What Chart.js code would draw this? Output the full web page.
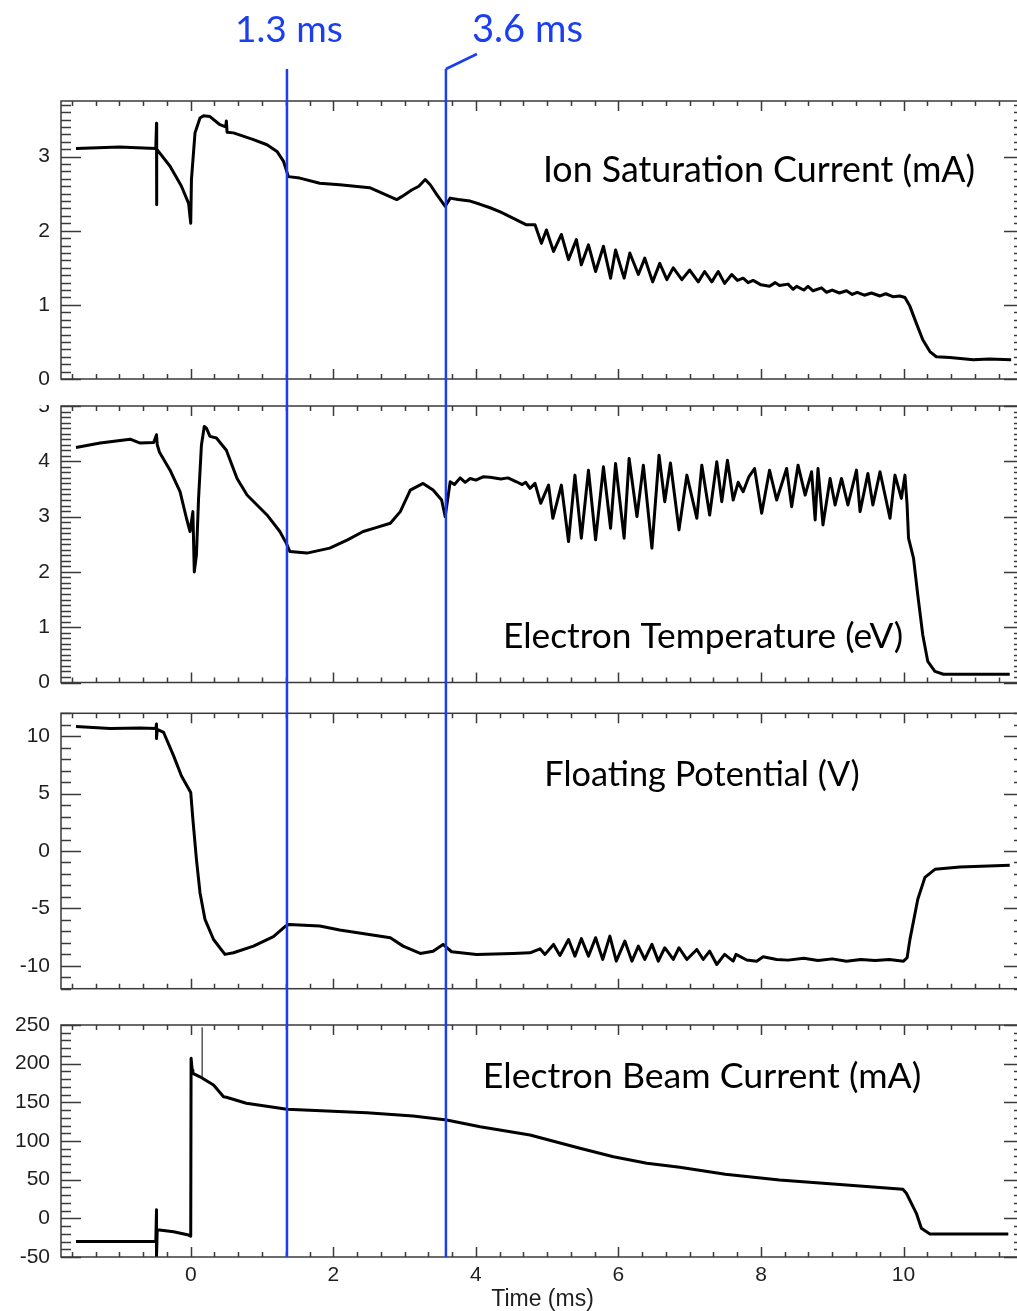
<!DOCTYPE html>
<html>
<head>
<meta charset="utf-8">
<script src="https://cdn.jsdelivr.net/npm/chart.js@4.4.1/dist/chart.umd.min.js"></script>
<style>
  html, body { margin: 0; padding: 0; background: #fff; overflow: hidden; }
  #page { position: relative; width: 1017px; height: 1311px; overflow: hidden; }
  canvas { position: absolute; left: 0; }
</style>
</head>
<body>
<div id="page">
  <canvas id="p1" width="1030" height="405" style="top:0px"></canvas>
  <canvas id="p2" width="1030" height="295" style="top:405px"></canvas>
  <canvas id="p3" width="1030" height="312" style="top:700px"></canvas>
  <canvas id="p4" width="1030" height="299" style="top:1012px"></canvas>
</div>
<script>
// ---------------- data ----------------
const xTicks = [0, 2, 4, 6, 8, 10];
const markerTimes = [1.35, 3.58];
const markerLabels = ["1.3 ms", "3.6 ms"];

const ionTicks = [0, 1, 2, 3];
const tempTicks = [0, 1, 2, 3, 4, 5];
const vfTicks = [-10, -5, 0, 5, 10];
const beamTicks = [-50, 0, 50, 100, 150, 200, 250];

// [time (ms), value]
const ionSat = [
  [-1.61, 3.11], [-1.3, 3.12], [-1.0, 3.13], [-0.75, 3.12], [-0.49, 3.11],
  [-0.48, 3.45], [-0.48, 2.35], [-0.475, 3.1], [-0.29, 2.87], [-0.13, 2.6],
  [-0.03, 2.37], [0.0, 2.1], [0.01, 2.69], [0.06, 3.32], [0.13, 3.52],
  [0.18, 3.55], [0.27, 3.54], [0.41, 3.43], [0.49, 3.4], [0.5, 3.48],
  [0.51, 3.33], [0.6, 3.32], [0.88, 3.23], [1.07, 3.16], [1.21, 3.07],
  [1.3, 2.94], [1.37, 2.73], [1.53, 2.71], [1.81, 2.64], [2.09, 2.62],
  [2.51, 2.58], [2.89, 2.42], [2.96, 2.46], [3.1, 2.55], [3.2, 2.6],
  [3.29, 2.69], [3.36, 2.62], [3.45, 2.49], [3.57, 2.33], [3.64, 2.44],
  [3.75, 2.42], [3.92, 2.4], [4.05, 2.36], [4.2, 2.31], [4.35, 2.25],
  [4.52, 2.17], [4.71, 2.08], [4.83, 2.08], [4.92, 1.83], [4.99, 2.01],
  [5.09, 1.72], [5.2, 1.95], [5.3, 1.61], [5.41, 1.88], [5.48, 1.54],
  [5.58, 1.81], [5.68, 1.45], [5.79, 1.79], [5.89, 1.36], [5.96, 1.74],
  [6.08, 1.36], [6.16, 1.7], [6.28, 1.41], [6.37, 1.63], [6.48, 1.31],
  [6.58, 1.56], [6.68, 1.34], [6.77, 1.5], [6.89, 1.34], [7.0, 1.47],
  [7.12, 1.31], [7.21, 1.45], [7.31, 1.31], [7.4, 1.45], [7.49, 1.29],
  [7.59, 1.41], [7.67, 1.33], [7.75, 1.36], [7.82, 1.3], [7.89, 1.33],
  [8.0, 1.27], [8.12, 1.25], [8.2, 1.3], [8.26, 1.26], [8.38, 1.28],
  [8.45, 1.21], [8.5, 1.25], [8.6, 1.2], [8.66, 1.25], [8.73, 1.19],
  [8.85, 1.23], [8.92, 1.17], [9.0, 1.2], [9.1, 1.16], [9.2, 1.19],
  [9.28, 1.14], [9.35, 1.17], [9.45, 1.13], [9.55, 1.16], [9.67, 1.12],
  [9.75, 1.15], [9.85, 1.11], [9.95, 1.12], [10.02, 1.1], [10.09, 0.98],
  [10.18, 0.75], [10.27, 0.53], [10.37, 0.37], [10.46, 0.3], [10.65, 0.29],
  [10.98, 0.26], [11.2, 0.27], [11.51, 0.26]
];

const electronTemp = [
  [-1.61, 4.25], [-1.27, 4.33], [-0.85, 4.4], [-0.71, 4.33], [-0.52, 4.34],
  [-0.48, 4.48], [-0.47, 4.3], [-0.44, 4.17], [-0.29, 3.84], [-0.15, 3.45],
  [-0.06, 2.97], [-0.01, 2.73], [0.03, 3.09], [0.05, 2.0], [0.08, 2.31],
  [0.11, 3.33], [0.15, 4.29], [0.19, 4.63], [0.22, 4.6], [0.27, 4.45],
  [0.36, 4.42], [0.5, 4.2], [0.65, 3.69], [0.79, 3.39], [1.07, 3.03],
  [1.25, 2.73], [1.34, 2.52], [1.39, 2.37], [1.63, 2.34], [1.95, 2.43],
  [2.2, 2.58], [2.42, 2.73], [2.6, 2.8], [2.8, 2.88], [2.94, 3.09],
  [3.08, 3.48], [3.26, 3.6], [3.4, 3.48], [3.52, 3.3], [3.57, 3.0],
  [3.64, 3.63], [3.7, 3.58], [3.78, 3.7], [3.85, 3.62], [3.92, 3.69],
  [4.0, 3.66], [4.1, 3.72], [4.2, 3.71], [4.35, 3.68], [4.45, 3.7],
  [4.57, 3.63], [4.65, 3.58], [4.7, 3.62], [4.76, 3.51], [4.83, 3.6],
  [4.91, 3.24], [5.02, 3.57], [5.08, 2.97], [5.2, 3.57], [5.3, 2.55],
  [5.39, 3.75], [5.48, 2.61], [5.58, 3.84], [5.68, 2.58], [5.79, 3.9],
  [5.89, 2.79], [5.96, 3.96], [6.08, 2.61], [6.15, 4.05], [6.26, 3.0],
  [6.35, 3.93], [6.47, 2.43], [6.57, 4.11], [6.65, 3.27], [6.73, 3.97],
  [6.85, 2.76], [6.96, 3.75], [7.1, 2.97], [7.17, 3.93], [7.28, 3.03],
  [7.38, 3.99], [7.45, 3.27], [7.53, 4.02], [7.61, 3.3], [7.68, 3.62],
  [7.75, 3.45], [7.83, 3.72], [7.91, 3.87], [8.01, 3.06], [8.12, 3.84],
  [8.22, 3.3], [8.36, 3.87], [8.43, 3.18], [8.52, 3.93], [8.62, 3.39],
  [8.71, 3.81], [8.76, 2.94], [8.8, 3.87], [8.87, 2.85], [8.97, 3.69],
  [9.04, 3.21], [9.13, 3.69], [9.22, 3.21], [9.34, 3.84], [9.39, 3.09],
  [9.5, 3.78], [9.57, 3.21], [9.67, 3.81], [9.81, 2.97], [9.88, 3.75],
  [9.97, 3.33], [10.02, 3.75], [10.05, 3.21], [10.07, 2.61], [10.14, 2.25],
  [10.2, 1.58], [10.27, 0.86], [10.34, 0.38], [10.44, 0.2], [10.56, 0.15],
  [11.49, 0.15]
];

const floatingPot = [
  [-1.61, 10.85], [-1.13, 10.68], [-0.71, 10.71], [-0.49, 10.68], [-0.48, 11.06],
  [-0.48, 9.81], [-0.47, 10.6], [-0.38, 10.33], [-0.24, 8.29], [-0.13, 6.54],
  [0.0, 5.1], [0.03, 2.77], [0.08, -0.72], [0.13, -3.63], [0.2, -5.96],
  [0.32, -7.71], [0.48, -9.01], [0.6, -8.87], [0.88, -8.29], [1.16, -7.47],
  [1.33, -6.54], [1.38, -6.4], [1.81, -6.54], [2.09, -6.89], [2.8, -7.56],
  [2.98, -8.29], [3.22, -8.93], [3.4, -8.73], [3.54, -8.14], [3.66, -8.78],
  [4.01, -9.01], [4.52, -8.93], [4.76, -8.87], [4.9, -8.52], [4.97, -9.01],
  [5.09, -8.14], [5.18, -9.1], [5.3, -7.71], [5.39, -9.16], [5.48, -7.64],
  [5.58, -9.16], [5.68, -7.56], [5.78, -9.45], [5.88, -7.42], [5.97, -9.6],
  [6.09, -7.85], [6.19, -9.6], [6.28, -8.29], [6.37, -9.45], [6.47, -8.14],
  [6.56, -9.6], [6.65, -8.43], [6.77, -9.45], [6.85, -8.43], [6.96, -9.45],
  [7.1, -8.58], [7.19, -9.45], [7.28, -8.73], [7.38, -9.89], [7.49, -9.01],
  [7.61, -9.6], [7.65, -9.01], [7.8, -9.5], [7.94, -9.6], [8.03, -9.22],
  [8.22, -9.45], [8.38, -9.51], [8.6, -9.35], [8.8, -9.55], [9.0, -9.4],
  [9.2, -9.6], [9.4, -9.45], [9.6, -9.55], [9.8, -9.45], [10.0, -9.6],
  [10.05, -9.3], [10.09, -7.7], [10.2, -4.2], [10.3, -2.3], [10.44, -1.6],
  [10.79, -1.4], [11.49, -1.24]
];

const beamCurrent = [
  [-1.61, -30], [-1.0, -30], [-0.49, -30], [-0.48, 11], [-0.48, -50],
  [-0.47, -15], [-0.44, -15], [-0.24, -17.3], [-0.03, -21.6], [0.0, -23],
  [0.005, 207], [0.02, 191.8], [0.03, 187.5], [0.13, 183], [0.32, 172.4],
  [0.46, 157.3], [0.5, 156.5], [0.78, 148.8], [1.35, 141], [2.47, 136.6],
  [3.12, 132.3], [3.59, 127.2], [4.06, 118.5], [4.76, 107.8], [5.46, 90.6],
  [5.93, 79.7], [6.4, 71.2], [6.86, 66], [7.5, 57], [8.26, 49.6],
  [9.2, 43.1], [9.99, 37.5], [10.04, 32.4], [10.18, 6.5], [10.25, -12.9],
  [10.37, -20.3], [11.47, -20.3]
];
const beamSpike = [[0.16, 183], [0.16, 247]];

// ---------------- drawing ----------------
const X_MIN = -1.82;
const X_MAX = 11.69;
const BLUE = "#1a3ef0";
const AXIS = "#3a3a3a";
const TICK_FONT = { family: "'Liberation Sans', Arial, sans-serif", size: 21 };

function toPoints(rows) {
  return rows.map(function (r) { return { x: r[0], y: r[1] }; });
}

function fitFont(ctx, text, width, family) {
  ctx.font = "100px " + family;
  return (100 * width) / ctx.measureText(text).width;
}

const framePlugin = {
  id: "frame",
  afterDatasetsDraw(chart, args, o) {
    const ctx = chart.ctx;
    const a = chart.chartArea;
    const xs = chart.scales.x;
    const ys = chart.scales.y;
    ctx.save();
    ctx.strokeStyle = AXIS;
    ctx.lineWidth = 1.5;
    ctx.beginPath();
    // x ticks every 1/3 ms, long ones on the labelled values
    for (let k = Math.ceil(xs.min * 3); k <= xs.max * 3; k++) {
      const px = Math.round(xs.getPixelForValue(k / 3)) + 0.5;
      const len = k % 6 === 0 ? 10 : 5;
      ctx.moveTo(px, a.bottom);
      ctx.lineTo(px, a.bottom - len);
      ctx.moveTo(px, a.top);
      ctx.lineTo(px, a.top + len);
    }
    const n0 = Math.ceil(ys.min / o.yMinor - 1e-6);
    const n1 = Math.floor(ys.max / o.yMinor + 1e-6);
    for (let k = n0; k <= n1; k++) {
      const v = k * o.yMinor;
      const major = o.yMajor.some(function (m) { return Math.abs(m - v) < 1e-6; });
      const py = Math.round(ys.getPixelForValue(v)) + 0.5;
      const len = major ? 20 : 10;
      ctx.moveTo(a.left, py);
      ctx.lineTo(a.left + len, py);
      ctx.moveTo(a.right, py);
      ctx.lineTo(a.right - len, py);
    }
    ctx.stroke();
    ctx.strokeRect(a.left, a.top, a.right - a.left, a.bottom - a.top);

    // panel caption
    const fam = "Lato, 'Open Sans', sans-serif";
    const size = fitFont(ctx, o.label, o.labelWidth, fam);
    ctx.font = size.toFixed(1) + "px " + fam;
    ctx.fillStyle = "#000";
    ctx.textAlign = "center";
    ctx.textBaseline = "alphabetic";
    ctx.fillText(o.label, o.labelX, o.labelY);

    // blue time markers
    ctx.strokeStyle = BLUE;
    ctx.lineWidth = 2.5;
    const bottom = o.markerToChart ? a.bottom : chart.height;
    markerTimes.forEach(function (t, i) {
      const px = xs.getPixelForValue(t);
      ctx.beginPath();
      ctx.moveTo(px, o.markerTop);
      ctx.lineTo(px, bottom);
      ctx.stroke();
      if (o.markerText) {
        const w = i === 0 ? 108 : 111;
        const s = fitFont(ctx, markerLabels[i], w, fam);
        ctx.font = s.toFixed(1) + "px " + fam;
        ctx.fillStyle = BLUE;
        if (i === 0) {
          ctx.textAlign = "center";
          ctx.fillText(markerLabels[i], px + 2, 42);
        } else {
          ctx.beginPath();
          ctx.moveTo(px, o.markerTop);
          ctx.lineTo(px + 31, 54);
          ctx.stroke();
          ctx.textAlign = "left";
          ctx.fillText(markerLabels[i], px + 26, 42);
        }
      }
    });
    ctx.restore();
  },
};

function makePanel(id, cfg) {
  const datasets = cfg.series.map(function (s) {
    return {
      data: toPoints(s.rows),
      borderColor: "#000",
      borderWidth: s.width || 3,
      pointRadius: 0,
      tension: 0,
      borderJoinStyle: "round",
      fill: false,
    };
  });
  new Chart(document.getElementById(id), {
    type: "line",
    data: { datasets: datasets },
    options: {
      responsive: false,
      animation: false,
      layout: { padding: { top: cfg.padTop, bottom: cfg.padBottom, left: 0, right: 6 } },
      plugins: {
        legend: { display: false },
        tooltip: { enabled: false },
        frame: cfg.frame,
      },
      scales: {
        x: {
          type: "linear",
          min: X_MIN,
          max: X_MAX,
          display: cfg.showX,
          grid: { display: false, drawTicks: false },
          border: { display: false },
          ticks: { autoSkip: false, padding: 6, color: "#1e1e1e", font: TICK_FONT, maxRotation: 0 },
          title: {
            display: cfg.showX,
            text: "Time (ms)",
            color: "#1e1e1e",
            font: { family: TICK_FONT.family, size: 23, lineHeight: 1.0 },
            padding: { top: 0, bottom: 0 },
          },
          afterBuildTicks: function (s) {
            s.ticks = xTicks.map(function (v) { return { value: v }; });
          },
          afterFit: function (s) {
            if (cfg.showX) s.height = 54;
            s.paddingLeft = 0;
            s.paddingRight = 0;
          },
        },
        y: {
          type: "linear",
          min: cfg.yMin,
          max: cfg.yMax,
          grid: { display: false, drawTicks: false },
          border: { display: false },
          ticks: {
            autoSkip: false,
            padding: 11,
            color: "#1e1e1e",
            font: TICK_FONT,
            callback: function (v) { return String(v); },
          },
          afterBuildTicks: function (s) {
            s.ticks = cfg.yTicks.map(function (v) { return { value: v }; });
          },
          afterFit: function (s) {
            s.width = 61;
            s.paddingTop = 0;
            s.paddingBottom = 0;
          },
        },
      },
    },
    plugins: [framePlugin],
  });
}

makePanel("p1", {
  series: [{ rows: ionSat }],
  yMin: 0, yMax: 3.75, yTicks: ionTicks,
  padTop: 101, padBottom: 26, showX: false,
  frame: {
    yMinor: 0.1, yMajor: ionTicks,
    label: "Ion Saturation Current (mA)", labelWidth: 432, labelX: 759, labelY: 182,
    markerTop: 69, markerText: true, markerToChart: false,
  },
});

makePanel("p2", {
  series: [{ rows: electronTemp }],
  yMin: 0, yMax: 5, yTicks: tempTicks,
  padTop: 1, padBottom: 17.5, showX: false,
  frame: {
    yMinor: 0.1, yMajor: tempTicks,
    label: "Electron Temperature (eV)", labelWidth: 400, labelX: 703, labelY: 648 - 405,
    markerTop: 0, markerText: false, markerToChart: false,
  },
});

makePanel("p3", {
  series: [{ rows: floatingPot }],
  yMin: -12, yMax: 12, yTicks: vfTicks,
  padTop: 13.3, padBottom: 23.3, showX: false,
  frame: {
    yMinor: 1, yMajor: vfTicks,
    label: "Floating Potential (V)", labelWidth: 315, labelX: 702, labelY: 786 - 700,
    markerTop: 0, markerText: false, markerToChart: false,
  },
});

makePanel("p4", {
  series: [{ rows: beamCurrent }, { rows: beamSpike, width: 1 }],
  yMin: -50, yMax: 250, yTicks: beamTicks,
  padTop: 13, padBottom: 0, showX: true,
  frame: {
    yMinor: 10, yMajor: beamTicks,
    label: "Electron Beam Current (mA)", labelWidth: 439, labelX: 702, labelY: 1088 - 1012,
    markerTop: 0, markerText: false, markerToChart: true,
  },
});
</script>
</body>
</html>
